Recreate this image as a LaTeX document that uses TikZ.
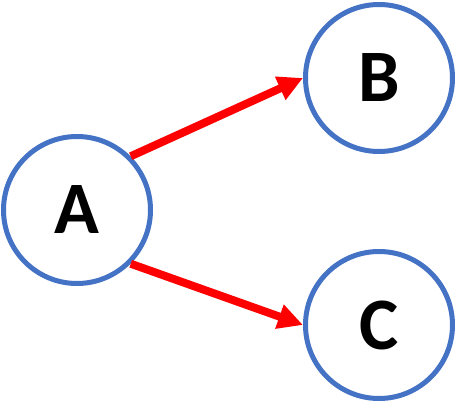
\documentclass[tikz,border=0pt]{standalone}
\usepackage{fontspec}
\setmainfont{Carlito}
\usetikzlibrary{positioning, arrows.meta}
\definecolor{ringblue}{HTML}{4472C4}

\tikzset{
    vertex/.style={
        draw=ringblue,
        circle,
        line width=5pt,
        minimum size=147pt,
        inner sep=0pt,
        font=\fontsize{74}{74}\selectfont\bfseries
    },
    link/.style={
        draw=red,
        line width=8pt,
        -{Triangle[length=25pt, width=24pt]}
    }
}

\begin{document}
\begin{tikzpicture}[x=1pt, y=-1pt]
    \useasboundingbox (0,0) rectangle (456,414);
    \node[vertex] (A) at (77,210) {A};
    \node[vertex] (B) at (379,78) {B};
    \node[vertex] (C) at (379,325) {C};
    \draw[link] (A.north east) -- (B.west);
    \draw[link] (A.south east) -- (C.west);
\end{tikzpicture}
\end{document}
